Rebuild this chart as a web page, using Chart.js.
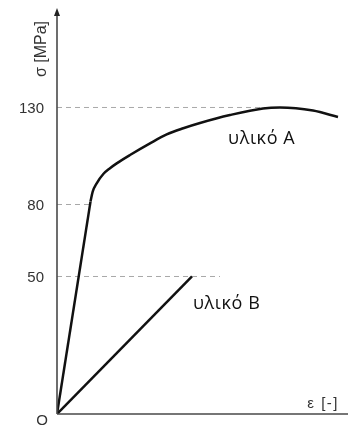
<!DOCTYPE html>
<html>
<head>
<meta charset="utf-8">
<script src="https://cdn.jsdelivr.net/npm/chart.js@4.4.1/dist/chart.umd.min.js"></script>
<style>
  html, body { margin: 0; padding: 0; background: #fff; }
  #wrap { width: 350px; height: 428px; }
</style>
</head>
<body>
<div id="wrap"><canvas id="chart" width="350" height="428"></canvas></div>
<script>
// Diagramme σ-ε (schématique) : matériau A (ductile) et matériau B (linéaire)

// ---- données (ε en unités arbitraires, σ en MPa) ----
const strainA = [0, 3.35];
const stressA = [0, 81.5];
const strainAPlast = [3.35, 3.57, 3.97, 4.63, 5.3, 5.97, 7.3, 9.3, 10.97, 12.63, 14.3, 17.3, 20.6, 22.3, 25.6, 28.1];
const stressAPlast = [81.5, 86.6, 90.9, 95.7, 98.7, 101.2, 105.5, 111.5, 116.1, 119.3, 122.0, 126.1, 129.5, 130, 128.4, 125.1];
const strainB = [0, 13.5];
const stressB = [0, 50];

const yTicks = [50, 80, 130];
const yTickLabels = ["50", "80", "130"];
const guideEnds = [16.3, 3.35, 22.3];   // où s'arrêtent les pointillés de 50, 80, 130

// l'axe σ du dessin n'est pas linéaire : points d'ancrage (MPa -> fraction de hauteur)
const warpMPa = [0, 50, 80, 130, 181.3];
const warpFrac = [0, 0.3387, 0.516, 0.755, 1];

function interp(v, xs, ys) {
  if (v <= xs[0]) return ys[0] + (v - xs[0]) * (ys[1] - ys[0]) / (xs[1] - xs[0]);
  for (let i = 1; i < xs.length; i++) {
    if (v <= xs[i]) return ys[i - 1] + (v - xs[i - 1]) * (ys[i] - ys[i - 1]) / (xs[i] - xs[i - 1]);
  }
  const n = xs.length - 1;
  return ys[n] + (v - xs[n]) * (ys[n] - ys[n - 1]) / (xs[n] - xs[n - 1]);
}

class SketchScale extends Chart.LinearScale {
  getPixelForValue(value) {
    if (value === null || value === undefined) return NaN;
    return this.getPixelForDecimal(interp(value, warpMPa, warpFrac));
  }
  getValueForPixel(pixel) {
    return interp(this.getDecimalForPixel(pixel), warpFrac, warpMPa);
  }
}
SketchScale.id = "sketch";
SketchScale.defaults = Chart.LinearScale.defaults;
Chart.register(SketchScale);

const pts = (xs, ys) => xs.map((x, i) => ({ x: x, y: ys[i] }));

const guides = yTicks.map((t, i) => ({
  data: [{ x: 0, y: t }, { x: guideEnds[i], y: t }],
  borderColor: "#a8a8a8",
  borderWidth: 1,
  borderDash: [5, 4],
  order: 2
}));

const courbe = (data, extra) => Object.assign({
  data: data,
  borderColor: "#111",
  borderWidth: 2.5,
  order: 1
}, extra || {});

const police = '"Liberation Sans", Arial, sans-serif';

const dessinAxes = {
  id: "dessinAxes",
  afterDatasetsDraw(chart) {
    const ctx = chart.ctx;
    const xs = chart.scales.x, ys = chart.scales.y;
    const x0 = xs.getPixelForValue(0), y0 = ys.getPixelForValue(0);
    const top = chart.chartArea.top, right = chart.chartArea.right;
    ctx.save();
    ctx.strokeStyle = "#4a4a4a";
    ctx.lineWidth = 1.6;
    ctx.beginPath();
    ctx.moveTo(x0, y0); ctx.lineTo(right, y0);
    ctx.moveTo(x0, y0); ctx.lineTo(x0, top + 6);
    ctx.stroke();
    ctx.fillStyle = "#222";
    ctx.beginPath();
    ctx.moveTo(x0, top); ctx.lineTo(x0 - 3, top + 8); ctx.lineTo(x0 + 3, top + 8);
    ctx.closePath(); ctx.fill();

    ctx.fillStyle = "#333";
    ctx.font = "15px " + police;
    ctx.textAlign = "right"; ctx.textBaseline = "middle";
    yTicks.forEach((t, i) => ctx.fillText(yTickLabels[i], x0 - 13, ys.getPixelForValue(t) + 1));

    ctx.textAlign = "center";
    ctx.fillText("O", x0 - 15, y0 + 7);

    ctx.font = "15px " + police;
    ctx.letterSpacing = "1.5px";
    ctx.textAlign = "right";
    ctx.fillText("ε [-]", right - 9, y0 - 10);
    ctx.letterSpacing = "0px";

    ctx.save();
    ctx.translate(x0 - 15, top + 41);
    ctx.rotate(-Math.PI / 2);
    ctx.textAlign = "center";
    ctx.font = "16px " + police;
    ctx.fillText("σ [MPa]", 0, 0);
    ctx.restore();

    ctx.fillStyle = "#111";
    ctx.font = '18px "Open Sans", sans-serif';
    ctx.letterSpacing = "0.6px";
    ctx.textAlign = "center";
    ctx.fillText("υλικό A", xs.getPixelForValue(20.47), ys.getPixelForValue(113.8));
    ctx.fillText("υλικό B", xs.getPixelForValue(16.97), ys.getPixelForValue(40));
    ctx.restore();
  }
};

new Chart(document.getElementById("chart"), {
  type: "scatter",
  data: {
    datasets: [
      courbe(pts(strainA, stressA)),
      courbe(pts(strainAPlast, stressAPlast), { cubicInterpolationMode: "monotone" }),
      courbe(pts(strainB, stressB))
    ].concat(guides)
  },
  options: {
    responsive: false,
    animation: false,
    showLine: true,
    layout: { padding: { left: 57, right: 2, top: 8, bottom: 14 } },
    elements: { point: { radius: 0, hoverRadius: 0 } },
    plugins: { legend: { display: false }, tooltip: { enabled: false } },
    scales: {
      x: { type: "linear", min: 0, max: 29.1, display: false },
      y: { type: "sketch", min: 0, max: 181.3, display: false }
    }
  },
  plugins: [dessinAxes]
});
</script>
</body>
</html>
